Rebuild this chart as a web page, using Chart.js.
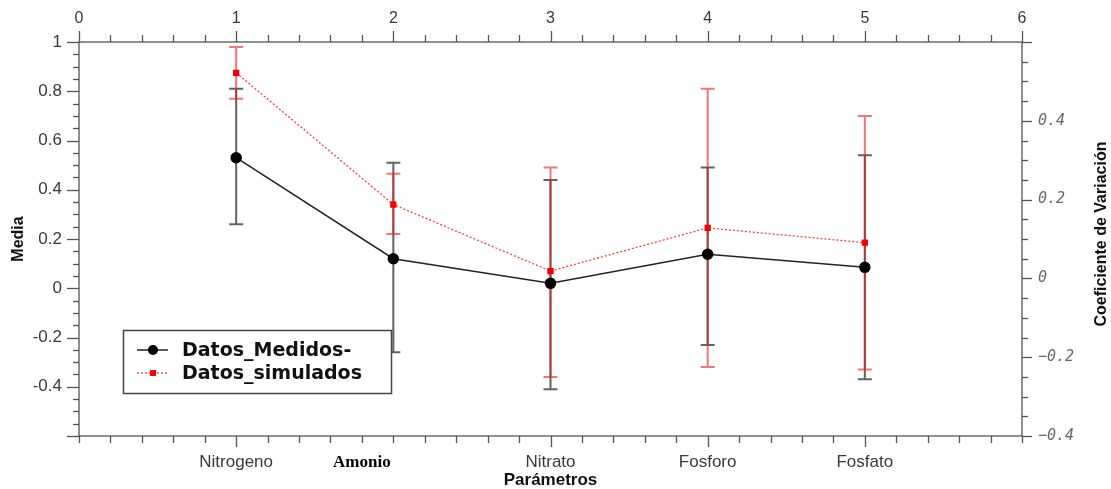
<!DOCTYPE html>
<html>
<head>
<meta charset="utf-8">
<script src="https://cdn.jsdelivr.net/npm/chart.js@4.4.1/dist/chart.umd.min.js"></script>
<style>
  html, body { margin: 0; padding: 0; background: #fff; }
</style>
</head>
<body>
<canvas id="grafico" width="1111" height="489"></canvas>
<script>
// categorias y donde va cada etiqueta sobre el eje inferior
const parametros = ['Nitrogeno', 'Amonio', 'Nitrato', 'Fosforo', 'Fosfato'];
const etiquetaEn = [1, 1.8, 3, 4, 5];
const posicion = [1, 2, 3, 4, 5];

// Datos_Medidos- (media y barras de error)
const medidos = [0.53, 0.12, 0.02, 0.138, 0.085];
const medidosMin = [0.26, -0.26, -0.41, -0.23, -0.37];
const medidosMax = [0.81, 0.51, 0.44, 0.49, 0.54];

// Datos_simulados
const simulados = [0.875, 0.34, 0.07, 0.245, 0.185];
const simuladosMin = [0.77, 0.22, -0.36, -0.32, -0.33];
const simuladosMax = [0.98, 0.465, 0.49, 0.81, 0.70];

// etiquetas del eje derecho (Coeficiente de Variacion)
const cvTicks = [0.4, 0.2, 0, -0.2, -0.4];
const cvLabels = ['0.4', '0.2', '0', '\u22120.2', '\u22120.4'];

const txt = '#3a3a3a';
const near = (a, b) => Math.abs(a - b) < 1e-6;
const isMult = (v, m) => near(v / m, Math.round(v / m));
const esAmonio = (c) => !!(c && c.tick) && near(c.tick.value, 1.8);

const puntos = (ys) => posicion.map((x, i) => ({ x: x, y: ys[i] }));

const barrasError = {
  id: 'barrasError',
  beforeDatasetsDraw(chart) {
    const { ctx, scales: { x, y } } = chart;
    const series = [
      { lo: medidosMin, hi: medidosMax, color: 'rgba(45,45,45,0.75)' },
      { lo: simuladosMin, hi: simuladosMax, color: 'rgba(235,25,25,0.6)' }
    ];
    ctx.save();
    ctx.lineWidth = 2;
    series.forEach(s => {
      ctx.strokeStyle = s.color;
      posicion.forEach((p, i) => {
        const px = x.getPixelForValue(p);
        const y1 = y.getPixelForValue(s.lo[i]);
        const y2 = y.getPixelForValue(s.hi[i]);
        ctx.beginPath();
        ctx.moveTo(px, y1); ctx.lineTo(px, y2);
        ctx.moveTo(px - 7, y1); ctx.lineTo(px + 7, y1);
        ctx.moveTo(px - 7, y2); ctx.lineTo(px + 7, y2);
        ctx.stroke();
      });
    });
    ctx.restore();
  }
};

const ejes = {
  id: 'ejes',
  afterDraw(chart) {
    const { ctx, chartArea: a, scales } = chart;
    ctx.save();
    ctx.strokeStyle = '#555';
    ctx.lineWidth = 1.3;
    ctx.strokeRect(a.left, a.top, a.right - a.left, a.bottom - a.top);

    const marcas = (scale, side, isMajor, lenMaj, lenMin) => {
      scale.ticks.forEach(t => {
        const p = Math.round(scale.getPixelForValue(t.value)) + 0.5;
        const len = isMajor(t.value) ? lenMaj : lenMin;
        ctx.beginPath();
        if (side === 'top') { ctx.moveTo(p, a.top); ctx.lineTo(p, a.top - len); }
        if (side === 'bottom') { ctx.moveTo(p, a.bottom); ctx.lineTo(p, a.bottom + len); }
        if (side === 'left') { ctx.moveTo(a.left, p); ctx.lineTo(a.left - len, p); }
        if (side === 'right') { ctx.moveTo(a.right, p); ctx.lineTo(a.right + len, p); }
        ctx.stroke();
      });
    };
    marcas(scales.x2, 'top', v => isMult(v, 1), 11, 7);
    marcas(scales.x, 'bottom', v => etiquetaEn.some(e => near(e, v) && isMult(v, 1)), 11, 7);
    marcas(scales.y, 'left', v => isMult(v, 0.2), 12, 6);
    marcas(scales.y2, 'right', v => isMult(v, 0.2), 10, 6);

    // titulos de los ejes
    ctx.fillStyle = '#111';
    ctx.font = 'bold 16px "Liberation Sans", Arial, sans-serif';
    ctx.textAlign = 'center';
    ctx.textBaseline = 'middle';
    ctx.save();
    ctx.translate(19, (a.top + a.bottom) / 2);
    ctx.rotate(-Math.PI / 2);
    ctx.fillText('Media', 0, 0);
    ctx.restore();
    ctx.save();
    ctx.translate(1102, 234);
    ctx.rotate(-Math.PI / 2);
    ctx.fillText('Coeficiente de Variación', 0, 0);
    ctx.restore();
    ctx.font = 'bold 17px "Liberation Sans", Arial, sans-serif';
    ctx.fillText('Parámetros', scales.x.getPixelForValue(3), 480);

    // leyenda
    const lx = 123, ly = 330, lw = 268, lh = 63;
    ctx.fillStyle = '#fff';
    ctx.fillRect(lx, ly, lw, lh);
    ctx.strokeStyle = '#444';
    ctx.lineWidth = 1.5;
    ctx.strokeRect(lx + 0.5, ly + 0.5, lw, lh);
    const filas = [
      { label: chart.data.datasets[0].label, y: ly + 20, ds: chart.data.datasets[0] },
      { label: chart.data.datasets[1].label, y: ly + 43, ds: chart.data.datasets[1] }
    ];
    filas.forEach((f, i) => {
      ctx.save();
      ctx.strokeStyle = f.ds.borderColor;
      ctx.lineWidth = f.ds.borderWidth;
      ctx.setLineDash(f.ds.borderDash || []);
      ctx.beginPath();
      ctx.moveTo(137, f.y); ctx.lineTo(168, f.y);
      ctx.stroke();
      ctx.restore();
      ctx.fillStyle = f.ds.pointBackgroundColor;
      if (i === 0) {
        ctx.beginPath(); ctx.arc(153, f.y, 5, 0, Math.PI * 2); ctx.fill();
      } else {
        ctx.fillRect(150, f.y - 3, 6, 6);
      }
      ctx.fillStyle = '#111';
      ctx.font = 'bold 19px "DejaVu Sans", sans-serif';
      ctx.textAlign = 'left';
      ctx.fillText(f.label, 182, f.y + 1);
    });
    ctx.restore();
  }
};

new Chart(document.getElementById('grafico'), {
  type: 'line',
  data: {
    datasets: [
      {
        label: 'Datos_Medidos-',
        data: puntos(medidos),
        borderColor: '#222',
        borderWidth: 1.5,
        pointRadius: 5,
        pointBackgroundColor: '#000',
        pointBorderColor: '#000',
        xAxisID: 'x', yAxisID: 'y'
      },
      {
        label: 'Datos_simulados',
        data: puntos(simulados),
        borderColor: 'rgba(255,40,40,0.9)',
        borderWidth: 1.3,
        borderDash: [2, 2],
        pointStyle: 'rect',
        pointRadius: 3.5,
        pointBackgroundColor: '#f00',
        pointBorderColor: '#e00',
        xAxisID: 'x', yAxisID: 'y'
      }
    ]
  },
  options: {
    responsive: false,
    animation: false,
    devicePixelRatio: 1,
    layout: { padding: 0 },
    plugins: {
      legend: { display: false },
      tooltip: { enabled: false }
    },
    scales: {
      x: {
        type: 'linear',
        position: 'bottom',
        min: 0, max: 6,
        grid: { display: false, drawTicks: false },
        border: { display: false },
        afterFit: s => { s.height = 53; },
        ticks: {
          stepSize: 0.2,
          autoSkip: false,
          maxRotation: 0,
          padding: 16,
          color: (c) => esAmonio(c) ? '#000' : txt,
          font: (c) => esAmonio(c)
            ? { family: '"Liberation Serif", serif', size: 17, weight: 'bold' }
            : { family: '"Liberation Sans", Arial, sans-serif', size: 17 },
          callback: (v) => {
            const i = etiquetaEn.findIndex(e => near(e, v));
            return i >= 0 ? parametros[i] : '';
          }
        }
      },
      x2: {
        type: 'linear',
        position: 'top',
        min: 0, max: 6,
        grid: { display: false, drawTicks: false },
        border: { display: false },
        afterFit: s => { s.height = 42; },
        ticks: {
          stepSize: 0.2,
          autoSkip: false,
          maxRotation: 0,
          padding: 14,
          color: txt,
          font: { family: '"Liberation Sans", Arial, sans-serif', size: 16 },
          callback: (v) => isMult(v, 1) ? String(Math.round(v)) : ''
        }
      },
      y: {
        type: 'linear',
        position: 'left',
        min: -0.6, max: 1,
        grid: { display: false, drawTicks: false },
        border: { display: false },
        afterFit: s => { s.width = 79; },
        ticks: {
          stepSize: 0.05,
          autoSkip: false,
          padding: 17,
          color: txt,
          font: { family: '"Liberation Sans", Arial, sans-serif', size: 17 },
          callback: (v) => {
            if (!isMult(v, 0.2) || near(v, -0.6)) return '';
            const r = Math.round(v * 10) / 10;
            return Number.isInteger(r) ? String(r) : r.toFixed(1);
          }
        }
      },
      y2: {
        type: 'linear',
        position: 'right',
        min: -0.4, max: 0.6,
        grid: { display: false, drawTicks: false },
        border: { display: false },
        afterFit: s => { s.width = 89; },
        ticks: {
          stepSize: 0.05,
          autoSkip: false,
          padding: 16,
          color: '#666',
          font: { family: '"DejaVu Sans Mono", monospace', size: 15, style: 'italic' },
          callback: (v) => {
            const i = cvTicks.findIndex(t => near(t, v));
            return i >= 0 ? cvLabels[i] : '';
          }
        }
      }
    }
  },
  plugins: [barrasError, ejes]
});
</script>
</body>
</html>
